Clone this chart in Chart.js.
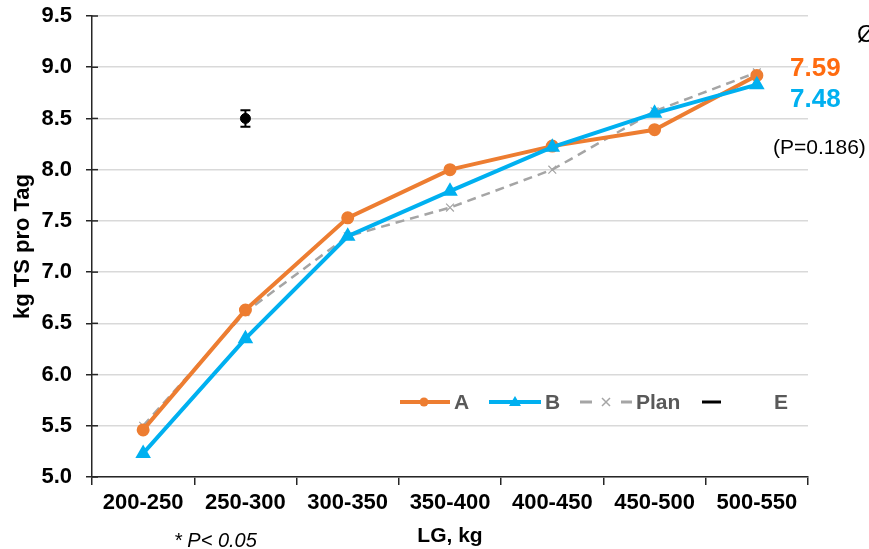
<!DOCTYPE html>
<html>
<head>
<meta charset="utf-8">
<script src="https://cdn.jsdelivr.net/npm/chart.js@4.4.1/dist/chart.umd.min.js"></script>
<style>
  html, body { margin: 0; padding: 0; background: #fff; }
  #wrap { position: relative; width: 869px; height: 549px; font-family: "Liberation Sans", Arial, sans-serif; }
  .note { position: absolute; white-space: nowrap; line-height: 1; }
</style>
</head>
<body>
<div id="wrap">
  <canvas id="chart" width="869" height="549"></canvas>
  <div class="note" style="left:857px; top:22px; font-size:24px; color:#000;">Ø</div>
  <div class="note" style="left:790px; top:54px; font-size:26px; font-weight:bold; color:#FF6B0F;">7.59</div>
  <div class="note" style="left:790px; top:85px; font-size:26px; font-weight:bold; color:#00B0F0;">7.48</div>
  <div class="note" style="left:773px; top:136px; font-size:21px; color:#000;">(P=0.186)</div>
  <div class="note" style="left:174px; top:530px; font-size:20px; font-style:italic; color:#000;">* P&lt; 0.05</div>
</div>
<script>
// Werte
const categories = ['200-250', '250-300', '300-350', '350-400', '400-450', '450-500', '500-550'];
const seriesA = [5.46, 6.63, 7.53, 8.00, 8.23, 8.39, 8.92];
const seriesB = [5.23, 6.35, 7.35, 7.79, 8.22, 8.55, 8.83];
const seriesPlan = [5.50, 6.61, 7.35, 7.63, 8.00, 8.57, 8.95];
const seriesE = [null, 8.50, null, null, null, null, null];
const errorE = [null, 0.08, null, null, null, null, null];

const orange = '#ED7D31';
const blue = '#00B0F0';
const grey = '#A5A5A5';
const fontFamily = '"Liberation Sans", Arial, sans-serif';

// Fehlerbalken fuer E
const errorBars = {
    id: 'errorBars',
    afterDatasetsDraw(chart) {
        let ctx = chart.ctx;
        let x = chart.scales.x, y = chart.scales.y;
        ctx.save();
        ctx.strokeStyle = '#000';
        ctx.lineWidth = 2;
        seriesE.forEach((v, i) => {
            if (v === null || !errorE[i]) return;
            let px = x.getPixelForValue(i);
            let top = y.getPixelForValue(v + errorE[i]);
            let bot = y.getPixelForValue(v - errorE[i]);
            ctx.beginPath();
            ctx.moveTo(px, top); ctx.lineTo(px, bot);
            ctx.moveTo(px - 5, top); ctx.lineTo(px + 5, top);
            ctx.moveTo(px - 5, bot); ctx.lineTo(px + 5, bot);
            ctx.stroke();
        });
        ctx.restore();
    }
};

// Legende im Diagramm
const innerLegend = {
    id: 'innerLegend',
    afterDraw(chart) {
        let ctx = chart.ctx;
        let yy = 402;
        ctx.save();
        ctx.font = 'bold 21px ' + fontFamily;
        ctx.textBaseline = 'middle';

        ctx.strokeStyle = orange; ctx.lineWidth = 4;
        ctx.beginPath(); ctx.moveTo(400, yy); ctx.lineTo(450, yy); ctx.stroke();
        ctx.fillStyle = orange; ctx.beginPath(); ctx.arc(424, yy, 4.5, 0, Math.PI * 2); ctx.fill();
        ctx.fillStyle = '#595959'; ctx.fillText('A', 454, yy + 1);

        ctx.strokeStyle = blue; ctx.lineWidth = 4;
        ctx.beginPath(); ctx.moveTo(489, yy); ctx.lineTo(541, yy); ctx.stroke();
        ctx.fillStyle = blue;
        ctx.beginPath(); ctx.moveTo(515, yy - 6); ctx.lineTo(521, yy + 4); ctx.lineTo(509, yy + 4); ctx.closePath(); ctx.fill();
        ctx.fillStyle = '#595959'; ctx.fillText('B', 545, yy + 1);

        ctx.strokeStyle = grey; ctx.lineWidth = 3;
        ctx.beginPath(); ctx.moveTo(580, yy); ctx.lineTo(592, yy); ctx.moveTo(621, yy); ctx.lineTo(632, yy); ctx.stroke();
        ctx.lineWidth = 1.5;
        ctx.beginPath(); ctx.moveTo(602, yy - 4); ctx.lineTo(610, yy + 4); ctx.moveTo(610, yy - 4); ctx.lineTo(602, yy + 4); ctx.stroke();
        ctx.fillText('Plan', 636, yy + 1);

        ctx.strokeStyle = '#000'; ctx.lineWidth = 3;
        ctx.beginPath(); ctx.moveTo(702, yy); ctx.lineTo(721, yy); ctx.stroke();
        ctx.fillText('E', 774, yy + 1);
        ctx.restore();
    }
};

// kleine Striche der y-Achse nach innen
const innerTicks = {
    id: 'innerTicks',
    afterDraw(chart) {
        let ctx = chart.ctx;
        let y = chart.scales.y;
        ctx.save();
        ctx.strokeStyle = '#262626';
        ctx.lineWidth = 1.5;
        y.ticks.forEach(t => {
            let py = y.getPixelForValue(t.value);
            ctx.beginPath(); ctx.moveTo(y.right, py); ctx.lineTo(y.right + 6, py); ctx.stroke();
        });
        ctx.restore();
    }
};

const ctx = document.getElementById('chart').getContext('2d');
new Chart(ctx, {
    type: 'line',
    data: {
        labels: categories,
        datasets: [
            {
                label: 'Plan', data: seriesPlan, borderColor: grey, backgroundColor: grey,
                borderWidth: 2.5, borderDash: [9, 6], pointStyle: 'crossRot', pointRadius: 5.5,
                pointBorderWidth: 1.2, order: 3
            },
            {
                label: 'A', data: seriesA, borderColor: orange, backgroundColor: orange,
                borderWidth: 4, pointStyle: 'circle', pointRadius: 4.5, order: 2
            },
            {
                label: 'B', data: seriesB, borderColor: blue, backgroundColor: blue,
                borderWidth: 4, pointStyle: 'triangle', pointRadius: 5, order: 1
            },
            {
                label: 'E', data: seriesE, borderColor: '#000', backgroundColor: '#000',
                showLine: false, pointStyle: 'circle', pointRadius: 5, order: 0
            }
        ]
    },
    options: {
        responsive: false,
        animation: false,
        layout: { padding: { top: 16, right: 61, left: 0, bottom: 0 } },
        plugins: {
            legend: { display: false },
            tooltip: { enabled: false }
        },
        scales: {
            x: {
                offset: true,
                grid: { display: true, drawOnChartArea: false, offset: true, tickLength: 8, color: '#262626', lineWidth: 1.5 },
                border: { color: '#262626', width: 1.5 },
                ticks: { color: '#000', font: { size: 22, weight: 'bold', family: fontFamily }, padding: 5, maxRotation: 0 },
                title: { display: true, text: 'LG, kg', color: '#000', font: { size: 21, weight: 'bold', family: fontFamily }, padding: { top: 4, bottom: 0 } },
                afterFit: s => { s.height = 72; }
            },
            y: {
                min: 5, max: 9.5,
                grid: { color: '#D9D9D9', lineWidth: 1.5, tickLength: 6, tickColor: '#262626' },
                border: { color: '#262626', width: 1.5 },
                ticks: { stepSize: 0.5, color: '#000', font: { size: 22, weight: 'bold', family: fontFamily }, padding: 14, callback: v => v.toFixed(1) },
                title: { display: true, text: 'kg TS pro Tag', color: '#000', font: { size: 22, weight: 'bold', family: fontFamily }, padding: { top: 10, bottom: 0 } },
                afterFit: s => { s.width = 92; s.paddingTop = 4; s.paddingBottom = 4; }
            }
        }
    },
    plugins: [errorBars, innerLegend, innerTicks]
});
</script>
</body>
</html>
